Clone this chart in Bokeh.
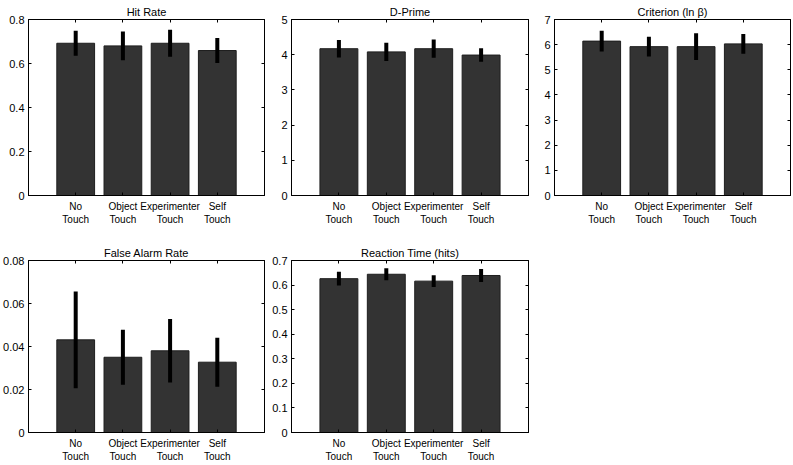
from bokeh.plotting import figure
from bokeh.layouts import gridplot
from bokeh.models import Range1d, FixedTicker, LinearAxis, CustomJSTickFormatter, ColumnDataSource
from bokeh.embed import file_html
from bokeh.resources import INLINE

# ---- data ----
conditions = ["No\nTouch", "Object\nTouch", "Experimenter\nTouch", "Self\nTouch"]
cond_index = [1, 2, 3, 4]

hit_rate = [0.692, 0.680, 0.692, 0.659]
hit_rate_err = [0.057, 0.065, 0.061, 0.057]
hit_ticks = [0, 0.2, 0.4, 0.6, 0.8]

d_prime = [4.17, 4.08, 4.17, 3.99]
d_prime_err = [0.25, 0.26, 0.26, 0.19]
d_prime_ticks = [0, 1, 2, 3, 4, 5]

criterion = [6.14, 5.92, 5.92, 6.03]
criterion_err = [0.41, 0.39, 0.53, 0.39]
criterion_ticks = [0, 1, 2, 3, 4, 5, 6, 7]

false_alarm = [0.0431, 0.0350, 0.0380, 0.0327]
false_alarm_err = [0.0225, 0.0128, 0.0148, 0.0114]
false_alarm_ticks = [0, 0.02, 0.04, 0.06, 0.08]

reaction_time = [0.626, 0.644, 0.616, 0.639]
reaction_time_err = [0.028, 0.024, 0.024, 0.026]
reaction_time_ticks = [0, 0.1, 0.2, 0.3, 0.4, 0.5, 0.6, 0.7]

FONT = "Liberation Sans"
BAR_FILL = "#333333"
BAR_LINE = "#1e1e1e"


def panel(title, vals, errs, ticks, width, height, left, top, bottom):
    ymax = ticks[-1]
    p = figure(width=width, height=height, output_backend="svg", toolbar_location=None,
               x_range=Range1d(0, 5), y_range=Range1d(0, ymax),
               min_border_left=left, min_border_right=2, min_border_top=top,
               min_border_bottom=bottom, x_axis_location=None, y_axis_location=None)
    p.title.text = title
    p.title.align = "center"
    p.title.text_font = FONT
    p.title.text_font_size = "11px"
    p.title.text_font_style = "normal"
    p.title.text_color = "black"
    p.title.standoff = 4
    p.title.offset = 0
    p.grid.visible = False
    p.outline_line_color = "black"
    p.outline_line_width = 1
    p.background_fill_color = "white"
    p.border_fill_color = "white"

    src = ColumnDataSource(dict(
        x=cond_index, top=vals,
        lo=[v - e for v, e in zip(vals, errs)],
        hi=[v + e for v, e in zip(vals, errs)]))
    p.vbar(x="x", top="top", bottom=0, width=0.8, source=src,
           fill_color=BAR_FILL, line_color=BAR_LINE, line_width=1)
    p.segment(x0="x", y0="lo", x1="x", y1="hi", source=src,
              line_color="black", line_width=4)

    overrides = {i: lab for i, lab in zip(cond_index, conditions)}
    ylab = {0: "0"}

    def style(ax, labels):
        ax.axis_line_color = "black"
        ax.axis_line_width = 1
        ax.major_tick_line_color = "black"
        ax.major_tick_in = 3
        ax.major_tick_out = 0
        ax.minor_tick_line_color = None
        ax.major_label_text_font = FONT
        ax.major_label_text_color = "black"
        if not labels:
            ax.formatter = CustomJSTickFormatter(code="return ''")
            ax.major_label_standoff = 0
            ax.major_label_text_font_size = "1px"

    xb = LinearAxis(ticker=FixedTicker(ticks=cond_index), major_label_overrides=overrides)
    style(xb, True)
    xb.major_label_text_font_size = "10px"
    xb.major_label_standoff = 5
    p.add_layout(xb, "below")

    xt = LinearAxis(ticker=FixedTicker(ticks=cond_index))
    style(xt, False)
    p.add_layout(xt, "above")

    yl = LinearAxis(ticker=FixedTicker(ticks=ticks), major_label_overrides=ylab)
    style(yl, True)
    yl.major_label_text_font_size = "11px"
    yl.major_label_standoff = 4
    p.add_layout(yl, "left")

    yr = LinearAxis(ticker=FixedTicker(ticks=ticks))
    style(yr, False)
    p.add_layout(yr, "right")
    return p


W1, W2, W3 = 266, 264, 262
L1, L2, L3 = 26, 25, 24
H1, H2 = 227, 237

p1 = panel("Hit Rate", hit_rate, hit_rate_err, hit_ticks, W1, H1, L1, 19, 30)
p2 = panel("D-Prime", d_prime, d_prime_err, d_prime_ticks, W2, H1, L2, 19, 30)
p3 = panel("Criterion (ln \u03b2)", criterion, criterion_err, criterion_ticks, W3, H1, L3, 19, 30)
p4 = panel("False Alarm Rate", false_alarm, false_alarm_err, false_alarm_ticks, W1, H2, L1, 33, 27)
p5 = panel("Reaction Time (hits)", reaction_time, reaction_time_err, reaction_time_ticks, W2, H2, L2, 33, 27)

grid = gridplot([[p1, p2, p3], [p4, p5, None]], toolbar_location=None)

open("out.html", "w").write(file_html(grid, INLINE))
